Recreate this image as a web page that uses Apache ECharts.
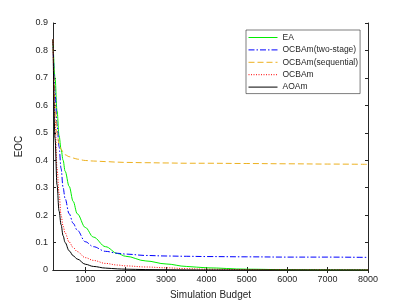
<!DOCTYPE html>
<html>
<head>
<meta charset="utf-8">
<script src="https://cdn.jsdelivr.net/npm/echarts@6/dist/echarts.min.js"></script>
<style>
html,body{margin:0;padding:0;background:#fff;}
#chart{width:407px;height:305px;}
</style>
</head>
<body>
<div id="chart"></div>
<script>
// Simulation budgets (x values)
var budgets = [200, 250, 300, 350, 400, 450, 500, 600, 700, 800, 1000, 1200, 1500, 1800, 2000, 2500, 3000, 3500, 4000, 5000, 6000, 7000, 8000];
// EOC values per method
var eaValues       = [0.84, 0.70, 0.58, 0.49, 0.44, 0.40, 0.36, 0.305, 0.25, 0.205, 0.155, 0.12, 0.085, 0.060, 0.050, 0.033, 0.022, 0.013, 0.008, 0.003, 0.001, 0.0005, 0.0002];
var twoStageValues = [0.84, 0.65, 0.53, 0.45, 0.37, 0.30, 0.26, 0.205, 0.17, 0.145, 0.103, 0.085, 0.068, 0.061, 0.058, 0.053, 0.051, 0.050, 0.049, 0.048, 0.047, 0.047, 0.046];
var sequentialValues = [0.84, 0.60, 0.50, 0.46, 0.44, 0.43, 0.42, 0.413, 0.408, 0.404, 0.399, 0.397, 0.395, 0.393, 0.392, 0.391, 0.390, 0.389, 0.389, 0.388, 0.387, 0.386, 0.385];
var ocbamValues    = [0.84, 0.55, 0.37, 0.28, 0.20, 0.16, 0.135, 0.102, 0.082, 0.067, 0.045, 0.035, 0.024, 0.018, 0.015, 0.011, 0.008, 0.005, 0.003, 0.0015, 0.001, 0.0005, 0.0003];
var aoamValues     = [0.84, 0.48, 0.31, 0.215, 0.165, 0.125, 0.10, 0.07, 0.052, 0.040, 0.021, 0.013, 0.007, 0.004, 0.003, 0.0015, 0.001, 0.0005, 0.0002, 0, 0, 0, 0];
// Tick labels
var xTicks = [1000, 2000, 3000, 4000, 5000, 6000, 7000, 8000];
var seriesNames = ['EA', 'OCBAm(two-stage)', 'OCBAm(sequential)', 'OCBAm', 'AOAm'];

function pairs(vals) {
  return budgets.map(function (b, i) { return [b, vals[i]]; });
}

var axisColor = '#262626';
var font = 'Liberation Sans, Arial, Helvetica, sans-serif';

var chart = echarts.init(document.getElementById('chart'), null, {renderer: 'canvas'});

function mkLine(name, vals, color, type) {
  return {
    name: name,
    type: 'line',
    data: pairs(vals),
    symbol: 'none',
    smooth: 0.35,
    smoothMonotone: 'x',
    lineStyle: {color: color, width: 1, type: type},
    itemStyle: {color: color},
    z: 3
  };
}

chart.setOption({
  animation: false,
  backgroundColor: '#fff',
  grid: {left: 53, top: 23, right: 39, bottom: 34, containLabel: false},
  legend: {
    orient: 'vertical',
    left: 246,
    top: 30,
    data: seriesNames,
    backgroundColor: '#fff',
    borderColor: axisColor,
    borderWidth: 0.6,
    borderRadius: 0,
    padding: [3, 2, 2, 2],
    itemWidth: 29,
    itemHeight: 8,
    itemGap: 3.4,
    itemStyle: {opacity: 0},
    lineStyle: {width: 1},
    textStyle: {fontFamily: font, fontSize: 8.5, color: axisColor, padding: [0, 0, 0, 0]}
  },
  xAxis: [{
    type: 'value',
    min: 200,
    max: 8000,
    name: 'Simulation Budget',
    nameLocation: 'middle',
    nameGap: 20,
    nameTextStyle: {fontFamily: font, fontSize: 10, color: axisColor},
    axisLine: {show: true, lineStyle: {color: axisColor, width: 1}},
    axisTick: {show: true, inside: true, length: 3, customValues: xTicks, lineStyle: {color: axisColor}},
    axisLabel: {show: true, customValues: xTicks, margin: 5, fontFamily: font, fontSize: 9, color: axisColor,
      formatter: function (v) { return String(v); }},
    splitLine: {show: false}
  }, {
    type: 'value',
    position: 'top',
    min: 200,
    max: 8000,
    axisLine: {show: true, lineStyle: {color: axisColor, width: 1}},
    axisTick: {show: true, inside: true, length: 3, customValues: xTicks, lineStyle: {color: axisColor}},
    axisLabel: {show: false},
    splitLine: {show: false}
  }],
  yAxis: [{
    type: 'value',
    min: 0,
    max: 0.9,
    interval: 0.1,
    name: 'EOC',
    nameLocation: 'middle',
    nameGap: 21,
    nameTextStyle: {fontFamily: font, fontSize: 10, color: axisColor},
    axisLine: {show: true, lineStyle: {color: axisColor, width: 1}},
    axisTick: {show: true, inside: true, length: 3, lineStyle: {color: axisColor}},
    axisLabel: {margin: 5, fontFamily: font, fontSize: 9, color: axisColor},
    splitLine: {show: false}
  }, {
    type: 'value',
    position: 'right',
    min: 0,
    max: 0.9,
    interval: 0.1,
    axisLine: {show: true, lineStyle: {color: axisColor, width: 1}},
    axisTick: {show: true, inside: true, length: 3, lineStyle: {color: axisColor}},
    axisLabel: {show: false},
    splitLine: {show: false}
  }],
  series: [
    mkLine(seriesNames[0], eaValues, '#00ee00', 'solid'),
    mkLine(seriesNames[1], twoStageValues, '#0000ff', [6, 2, 1.5, 2]),
    mkLine(seriesNames[2], sequentialValues, '#EDB120', [6, 3]),
    mkLine(seriesNames[3], ocbamValues, '#ff0000', [1, 1.5]),
    mkLine(seriesNames[4], aoamValues, '#000000', 'solid')
  ]
});
</script>
</body>
</html>
